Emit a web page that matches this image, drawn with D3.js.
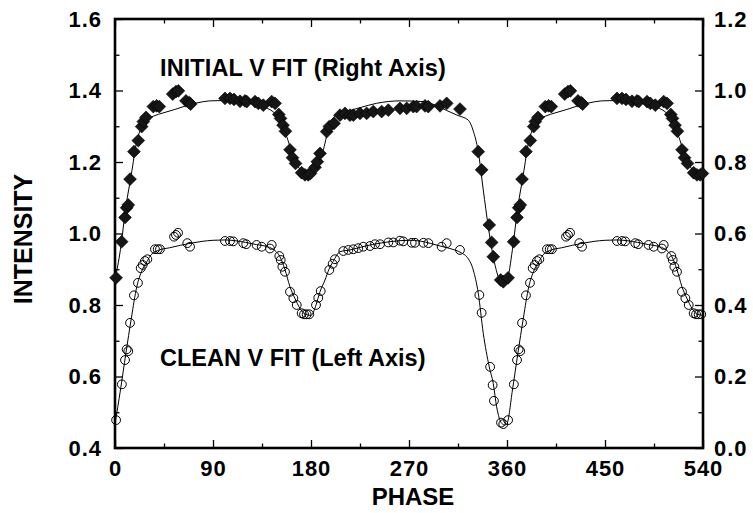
<!DOCTYPE html>
<html>
<head>
<meta charset="utf-8">
<script src="https://cdn.jsdelivr.net/npm/d3@7/dist/d3.min.js"></script>
<style>
  html, body { margin: 0; padding: 0; background: #fff; }
  svg { display: block; }
  text { font-family: "Liberation Sans", Arial, Helvetica, sans-serif; font-weight: bold; fill: #000; }
</style>
</head>
<body>
<svg id="chart" width="753" height="513"></svg>
<script>
// ---------- DATA (phase 0-360, the plot repeats phase 0-180 at 360-540) ----------
const cleanPhase = [1.0, 6.3, 9.2, 10.7, 12.2, 13.8, 17.4, 21.1, 23.6, 25.4, 27.5, 29.7, 36.7, 39.2, 41.3,
  54.2, 56.0, 57.9, 66.4, 68.9, 101.0, 105.6, 108.6, 117.8, 120.5, 130.0, 134.7, 142.3, 143.9,
  150.9, 152.2, 153.7, 156.1, 160.7, 163.8, 166.9, 171.4, 173.6, 176.0, 178.4,
  184.6, 186.7, 188.9, 196.8, 199.9, 202.0, 209.7, 214.3, 218.9, 223.4, 228.0, 234.2, 238.8, 243.4,
  251.0, 255.6, 261.7, 264.8, 272.5, 275.5, 283.2, 287.8, 300.0, 304.6, 316.8,
  334.6, 336.7, 344.5, 346.8, 348.0, 354.5, 356.6];
const cleanValue = [0.478, 0.578, 0.646, 0.676, 0.671, 0.750, 0.827, 0.862, 0.903, 0.912, 0.923, 0.928, 0.956, 0.956, 0.956,
  0.991, 0.996, 1.002, 0.973, 0.963, 0.979, 0.979, 0.978, 0.973, 0.970, 0.968, 0.963, 0.958, 0.968,
  0.937, 0.926, 0.907, 0.893, 0.837, 0.819, 0.800, 0.777, 0.774, 0.774, 0.774,
  0.800, 0.820, 0.839, 0.898, 0.915, 0.928, 0.951, 0.954, 0.956, 0.959, 0.963, 0.965, 0.970, 0.970,
  0.975, 0.975, 0.980, 0.978, 0.974, 0.974, 0.974, 0.973, 0.963, 0.973, 0.954,
  0.828, 0.778, 0.627, 0.576, 0.532, 0.471, 0.467];

const initialPhase = [1.0, 6.1, 9.2, 10.7, 12.2, 13.8, 17.4, 21.4, 24.5, 26.0, 28.5, 35.2, 38.3, 40.7,
  53.0, 56.0, 58.2, 65.2, 68.3, 69.5, 101.0, 105.6, 109.3, 114.8, 119.4, 121.0, 128.6, 131.6, 136.2,
  143.9, 147.0, 150.4, 152.0, 154.3, 156.5, 160.7, 163.0, 165.8, 171.4, 174.5, 177.5, 179.5,
  183.7, 185.8, 188.3, 194.4, 196.8, 201.1, 206.6, 211.2, 215.8, 218.9, 225.0, 231.1, 237.2, 244.9,
  251.0, 261.7, 267.9, 274.0, 277.0, 284.7, 287.7, 298.5, 304.6, 316.8,
  333.6, 336.7, 343.7, 345.9, 347.4, 354.2, 356.6];
const initialValue = [0.476, 0.577, 0.645, 0.672, 0.680, 0.752, 0.829, 0.860, 0.899, 0.913, 0.925, 0.955, 0.957, 0.955,
  0.990, 0.997, 0.999, 0.971, 0.966, 0.962, 0.978, 0.978, 0.975, 0.970, 0.971, 0.969, 0.969, 0.964, 0.959,
  0.969, 0.964, 0.933, 0.922, 0.903, 0.886, 0.834, 0.812, 0.796, 0.770, 0.764, 0.764, 0.768,
  0.785, 0.801, 0.824, 0.885, 0.899, 0.908, 0.931, 0.936, 0.931, 0.931, 0.936, 0.936, 0.941, 0.941,
  0.945, 0.950, 0.950, 0.955, 0.955, 0.957, 0.955, 0.957, 0.964, 0.948,
  0.829, 0.778, 0.624, 0.575, 0.535, 0.470, 0.465];

const cleanFitPhase = [0, 5, 10, 15, 20, 25, 30, 33, 40, 50, 60, 70, 80, 90, 101, 110, 120, 130, 142, 147,
  151.5, 156, 160.7, 165, 170, 175, 180, 184.6, 188, 192.9, 196.5, 200.2, 206.6, 215.8, 230, 243.4,
  261.7, 270, 280, 290, 298.5, 307.6, 318.6, 323, 329, 333.6, 338.2, 343.7, 347.4, 350.5, 355.1, 358.2, 360];
const cleanFitValue = [0.468, 0.562, 0.665, 0.763, 0.851, 0.898, 0.925, 0.940, 0.953, 0.960, 0.967, 0.973, 0.978, 0.981, 0.982, 0.980, 0.975, 0.969, 0.961, 0.952,
  0.935, 0.900, 0.851, 0.820, 0.790, 0.774, 0.771, 0.800, 0.835, 0.870, 0.900, 0.921, 0.949, 0.954, 0.965, 0.973,
  0.980, 0.981, 0.979, 0.972, 0.965, 0.958, 0.945, 0.935, 0.898, 0.833, 0.721, 0.627, 0.580, 0.515, 0.469, 0.464, 0.468];

const initialFitPhase = [0, 5, 10, 15, 20, 25, 30, 35, 45, 55, 65, 75, 87, 100, 110, 120, 130, 140, 145,
  151.5, 157.7, 162.3, 168.3, 174.5, 180, 185.2, 191.3, 197.4, 203.6, 212.8, 225, 240, 261.7, 283, 295,
  304.6, 315, 324.5, 328.8, 333.6, 338.2, 342.8, 347.4, 352, 356, 360];
const initialFitValue = [0.470, 0.555, 0.675, 0.765, 0.858, 0.900, 0.920, 0.928, 0.938, 0.947, 0.957, 0.965, 0.971, 0.972, 0.971, 0.966, 0.960, 0.950, 0.941,
  0.917, 0.871, 0.829, 0.787, 0.764, 0.759, 0.782, 0.834, 0.908, 0.931, 0.941, 0.952, 0.964, 0.971, 0.969, 0.958,
  0.944, 0.930, 0.917, 0.889, 0.829, 0.722, 0.619, 0.535, 0.479, 0.461, 0.470];

const xTicks = [0, 90, 180, 270, 360, 450, 540];
const leftTicks = [0.4, 0.6, 0.8, 1.0, 1.2, 1.4, 1.6];
const rightTicks = [0.0, 0.2, 0.4, 0.6, 0.8, 1.0, 1.2];

// ---------- helpers ----------
function extendPhase(ph, val) {
  const pts = ph.map((p, i) => ({ p: p, v: val[i] }));
  const rep = pts.filter(d => d.p > 0 && d.p <= 180).map(d => ({ p: d.p + 360, v: d.v }));
  return pts.concat(rep);
}

const svg = d3.select("#chart");
const X0 = 115, X1 = 703, Y0 = 19, Y1 = 448;
const x = d3.scaleLinear().domain([0, 540]).range([X0, X1]);
const yL = d3.scaleLinear().domain([0.4, 1.6]).range([Y1, Y0]);
const yR = d3.scaleLinear().domain([0.0, 1.2]).range([Y1, Y0]);

const xMinor = d3.range(45, 540, 90);
const lMinor = d3.range(0.5, 1.6, 0.2);
const rMinor = d3.range(0.1, 1.2, 0.2);

const fmt = d3.format(".1f");
const fs = "22px";

function styleAxis(g) {
  g.select(".domain").remove();
  g.selectAll(".tick line").attr("stroke", "#000").attr("stroke-width", 1.3);
  g.selectAll("text").style("font-size", fs).style("letter-spacing", "1px")
    .attr("font-family", null).attr("fill", "#000");
}

// bottom
svg.append("g").attr("transform", `translate(0,${Y1})`)
  .call(d3.axisBottom(x).tickValues(xTicks).tickFormat(d3.format("d")).tickSize(-8).tickPadding(12))
  .call(styleAxis);
svg.append("g").attr("transform", `translate(0,${Y1})`)
  .call(d3.axisBottom(x).tickValues(xMinor).tickFormat("").tickSize(-4.5))
  .call(styleAxis);
// top
svg.append("g").attr("transform", `translate(0,${Y0})`)
  .call(d3.axisTop(x).tickValues(xTicks).tickFormat("").tickSize(-8))
  .call(styleAxis);
svg.append("g").attr("transform", `translate(0,${Y0})`)
  .call(d3.axisTop(x).tickValues(xMinor).tickFormat("").tickSize(-4.5))
  .call(styleAxis);
// left
svg.append("g").attr("transform", `translate(${X0},0)`)
  .call(d3.axisLeft(yL).tickValues(leftTicks).tickFormat(fmt).tickSize(-8).tickPadding(13))
  .call(styleAxis);
svg.append("g").attr("transform", `translate(${X0},0)`)
  .call(d3.axisLeft(yL).tickValues(lMinor).tickFormat("").tickSize(-4.5))
  .call(styleAxis);
// right
svg.append("g").attr("transform", `translate(${X1},0)`)
  .call(d3.axisRight(yR).tickValues(rightTicks).tickFormat(fmt).tickSize(-8).tickPadding(11))
  .call(styleAxis);
svg.append("g").attr("transform", `translate(${X1},0)`)
  .call(d3.axisRight(yR).tickValues(rMinor).tickFormat("").tickSize(-4.5))
  .call(styleAxis);

// frame
svg.append("rect").attr("x", X0).attr("y", Y0).attr("width", X1 - X0).attr("height", Y1 - Y0)
  .attr("fill", "none").attr("stroke", "#000").attr("stroke-width", 2.6);

// fit lines
const cleanFit = extendPhase(cleanFitPhase, cleanFitValue);
const initialFit = extendPhase(initialFitPhase, initialFitValue);
const lineL = d3.line().x(d => x(d.p)).y(d => yL(d.v)).curve(d3.curveMonotoneX);
const lineR = d3.line().x(d => x(d.p)).y(d => yR(d.v)).curve(d3.curveMonotoneX);
svg.append("path").datum(cleanFit).attr("d", lineL).attr("fill", "none").attr("stroke", "#000").attr("stroke-width", 1);
svg.append("path").datum(initialFit).attr("d", lineR).attr("fill", "none").attr("stroke", "#000").attr("stroke-width", 1);

// points
const clean = extendPhase(cleanPhase, cleanValue);
const initial = extendPhase(initialPhase, initialValue);
svg.append("g").selectAll("circle").data(clean).join("circle")
  .attr("cx", d => x(d.p)).attr("cy", d => yL(d.v)).attr("r", 4.4)
  .attr("fill", "none").attr("stroke", "#000").attr("stroke-width", 1);
const diamond = d3.symbol().type(d3.symbolSquare).size(82);
svg.append("g").selectAll("path").data(initial).join("path")
  .attr("d", diamond)
  .attr("transform", d => `translate(${x(d.p)},${yR(d.v)}) rotate(45)`)
  .attr("fill", "#161616").attr("stroke", "#000").attr("stroke-width", 0.6);

// annotations
svg.append("text").attr("x", 160).attr("y", 76).style("font-size", "23.5px").style("letter-spacing", "0.1px")
  .text("INITIAL V FIT (Right Axis)");
svg.append("text").attr("x", 160).attr("y", 366).style("font-size", "23.5px")
  .text("CLEAN V FIT (Left Axis)");

// axis titles
svg.append("text").attr("x", 413).attr("y", 505).attr("text-anchor", "middle").style("font-size", "24px")
  .text("PHASE");
svg.append("text").attr("transform", "translate(32,239) rotate(-90)").attr("text-anchor", "middle")
  .style("font-size", "25px").text("INTENSITY");
</script>
</body>
</html>
